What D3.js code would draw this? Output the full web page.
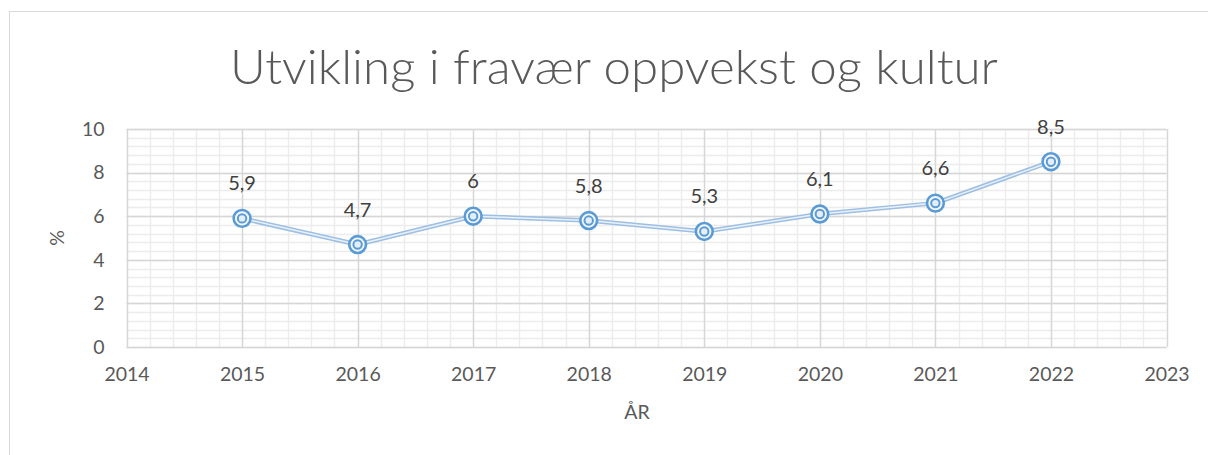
<!DOCTYPE html>
<html>
<head>
  <meta charset="utf-8">
  <script src="https://d3js.org/d3.v7.min.js"></script>
  <style>
    body { margin: 0; background: #fff; }
    svg { display: block; }
  </style>
</head>
<body>
  <svg id="viz"></svg>
  <script>
    var years = [2015, 2016, 2017, 2018, 2019, 2020, 2021, 2022];
    var values = [5.9, 4.7, 6, 5.8, 5.3, 6.1, 6.6, 8.5];
    var xTicks = [2014, 2015, 2016, 2017, 2018, 2019, 2020, 2021, 2022, 2023];
    var yTicks = [0, 2, 4, 6, 8, 10];

    var width = 1208, height = 455;
    var font = "Lato, 'Open Sans', sans-serif";

    var svg = d3.select("#viz").attr("width", width).attr("height", height);

    // chart frame
    svg.append("rect")
      .attr("x", 9.5).attr("y", 11.5)
      .attr("width", width + 20).attr("height", height + 20)
      .attr("fill", "#fff").attr("stroke", "#d9d9d9");

    var x = d3.scaleLinear().domain([2014, 2023]).range([126.5, 1166.5]);
    var y = d3.scaleLinear().domain([0, 10]).range([347, 129]);

    var g = svg.append("g");

    // minor grid
    d3.range(2014, 2023.001, 0.2).forEach(function(v) {
      g.append("line")
        .attr("x1", Math.round(x(v)) + 0.5).attr("x2", Math.round(x(v)) + 0.5)
        .attr("y1", y(10)).attr("y2", y(0))
        .attr("stroke", "#ececec").attr("stroke-width", 1.5);
    });
    d3.range(0, 10.001, 0.4).forEach(function(v) {
      g.append("line")
        .attr("x1", x(2014)).attr("x2", x(2023))
        .attr("y1", Math.round(y(v)) + 0.5).attr("y2", Math.round(y(v)) + 0.5)
        .attr("stroke", "#ececec").attr("stroke-width", 1.5);
    });

    // major grid
    g.selectAll(".vmaj").data(xTicks).enter().append("line")
      .attr("x1", function(d) { return Math.round(x(d)) + 0.5; })
      .attr("x2", function(d) { return Math.round(x(d)) + 0.5; })
      .attr("y1", y(10)).attr("y2", y(0))
      .attr("stroke", "#d6d6d6").attr("stroke-width", 1.3);
    g.selectAll(".hmaj").data(yTicks).enter().append("line")
      .attr("x1", x(2014)).attr("x2", x(2023))
      .attr("y1", function(d) { return Math.round(y(d)) + 0.5; })
      .attr("y2", function(d) { return Math.round(y(d)) + 0.5; })
      .attr("stroke", "#d6d6d6").attr("stroke-width", 1.3);

    // axis labels
    var xAxis = d3.axisBottom(x).tickValues(xTicks).tickFormat(d3.format("d")).tickSize(0).tickPadding(20);
    svg.append("g").attr("transform", "translate(0," + y(0) + ")").call(xAxis)
      .call(function(s) { s.select(".domain").remove(); })
      .selectAll("text")
      .attr("font-family", font).attr("font-size", 19.5).attr("fill", "#595959");

    var yAxis = d3.axisLeft(y).tickValues(yTicks).tickSize(0).tickPadding(22);
    svg.append("g").attr("transform", "translate(" + x(2014) + ",0)").call(yAxis)
      .call(function(s) { s.select(".domain").remove(); })
      .selectAll("text")
      .attr("font-family", font).attr("font-size", 19.5).attr("fill", "#595959");

    svg.append("text")
      .attr("x", 637).attr("y", 419)
      .attr("text-anchor", "middle")
      .attr("font-family", font).attr("font-size", 19.5).attr("fill", "#595959")
      .text("ÅR");

    svg.append("text")
      .attr("transform", "translate(64,238) rotate(-90)")
      .attr("text-anchor", "middle")
      .attr("font-family", font).attr("font-size", 19.5).attr("fill", "#595959")
      .text("%");

    // title
    svg.append("text")
      .attr("x", 614).attr("y", 84)
      .attr("text-anchor", "middle")
      .attr("textLength", 768).attr("lengthAdjust", "spacingAndGlyphs")
      .attr("font-family", font).attr("font-weight", 300).attr("font-size", 47).attr("fill", "#595959")
      .text("Utvikling i fravær oppvekst og kultur");

    // series line (double line)
    var pts = years.map(function(d, i) { return [x(d), y(values[i])]; });
    var line = d3.line();
    svg.append("path").attr("d", line(pts))
      .attr("fill", "none").attr("stroke", "#9dbfe3").attr("stroke-width", 4.5)
      .attr("stroke-linejoin", "round");
    svg.append("path").attr("d", line(pts))
      .attr("fill", "none").attr("stroke", "#eaf1f9").attr("stroke-width", 1.5)
      .attr("stroke-linejoin", "round");

    // markers
    var m = svg.selectAll(".mk").data(pts).enter().append("g")
      .attr("transform", function(d) { return "translate(" + d[0] + "," + d[1] + ")"; });
    m.append("circle").attr("r", 8.4)
      .attr("fill", "#f3f7fc").attr("stroke", "#5b9bd5").attr("stroke-width", 2.6);
    m.append("circle").attr("r", 4.2)
      .attr("fill", "#e4eef8").attr("stroke", "#5b9bd5").attr("stroke-width", 2);

    // data labels
    svg.selectAll(".lbl").data(pts).enter().append("text")
      .attr("x", function(d) { return d[0]; })
      .attr("y", function(d) { return d[1] - 28; })
      .attr("text-anchor", "middle")
      .attr("font-family", font).attr("font-size", 20).attr("fill", "#404040")
      .text(function(d, i) { return String(values[i]).replace(".", ","); });
  </script>
</body>
</html>
